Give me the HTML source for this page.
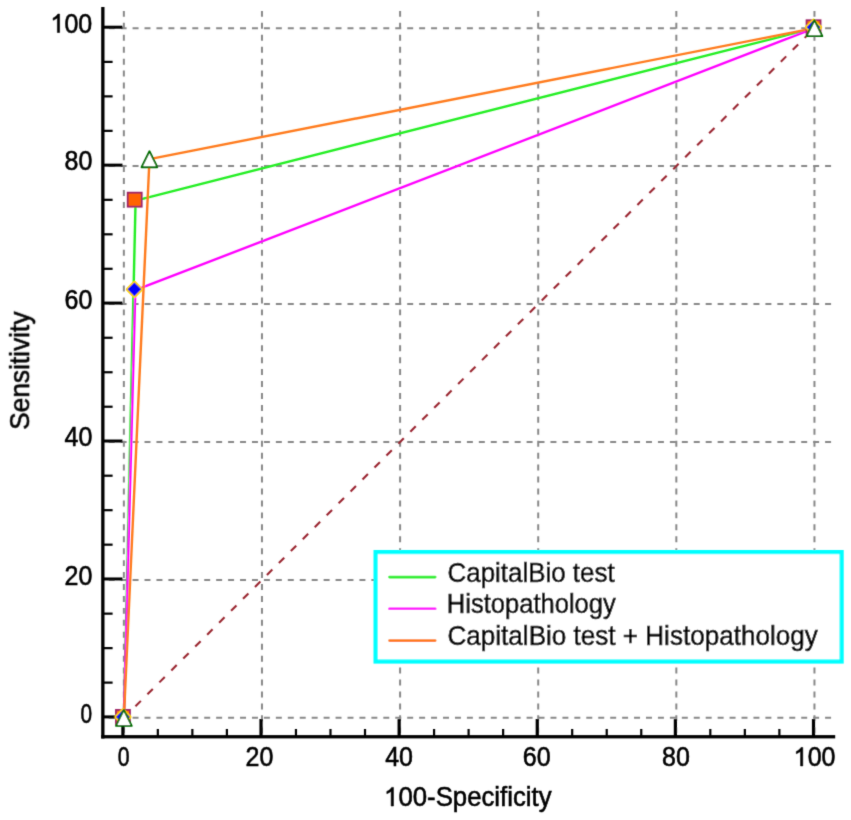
<!DOCTYPE html><html><head><meta charset="utf-8"><style>html,body{margin:0;padding:0;background:#fff;}svg{display:block;}text{font-family:"Liberation Sans",sans-serif;fill:#000;stroke:#000;stroke-width:0.55px;}</style></head><body>
<svg width="851" height="820" viewBox="0 0 851 820">
<defs><filter id="bl" x="0" y="0" width="851" height="820" filterUnits="userSpaceOnUse"><feConvolveMatrix order="3" kernelMatrix="1 6 1 6 36 6 1 6 1" divisor="64" edgeMode="duplicate"/></filter></defs>
<rect x="0" y="0" width="851" height="820" fill="#fff"/>
<g filter="url(#bl)">
<g stroke="#888" stroke-width="2" stroke-dasharray="5.97 5.97" fill="none"><line x1="108.7" y1="717.85" x2="835" y2="717.85"/><line x1="108.7" y1="579.91" x2="835" y2="579.91"/><line x1="108.7" y1="441.97" x2="835" y2="441.97"/><line x1="108.7" y1="304.03" x2="835" y2="304.03"/><line x1="108.7" y1="166.09" x2="835" y2="166.09"/><line x1="108.7" y1="28.15" x2="835" y2="28.15"/><line x1="123.85" y1="10.9" x2="123.85" y2="735"/><line x1="261.97" y1="10.9" x2="261.97" y2="735"/><line x1="400.09" y1="10.9" x2="400.09" y2="735"/><line x1="538.21" y1="10.9" x2="538.21" y2="735"/><line x1="676.33" y1="10.9" x2="676.33" y2="735"/><line x1="814.45" y1="10.9" x2="814.45" y2="735"/></g>
<line x1="123.85" y1="717.85" x2="814.45" y2="28.15" stroke="#9a2630" stroke-width="2.1" stroke-dasharray="7.6 9.29" stroke-dashoffset="0.47"/>
<rect x="101.2" y="7" width="3.3" height="731.5" fill="#000"/>
<rect x="101.2" y="735.1" width="734" height="3.3" fill="#000"/>
<g fill="#000"><rect x="103" y="715.40" width="19.5" height="3" /><rect x="103" y="681.51" width="9.6" height="2.2" /><rect x="103" y="647.03" width="9.6" height="2.2" /><rect x="103" y="612.54" width="9.6" height="2.2" /><rect x="103" y="577.46" width="19.5" height="3" /><rect x="103" y="543.57" width="9.6" height="2.2" /><rect x="103" y="509.09" width="9.6" height="2.2" /><rect x="103" y="474.60" width="9.6" height="2.2" /><rect x="103" y="439.52" width="19.5" height="3" /><rect x="103" y="405.63" width="9.6" height="2.2" /><rect x="103" y="371.15" width="9.6" height="2.2" /><rect x="103" y="336.66" width="9.6" height="2.2" /><rect x="103" y="301.58" width="19.5" height="3" /><rect x="103" y="267.69" width="9.6" height="2.2" /><rect x="103" y="233.21" width="9.6" height="2.2" /><rect x="103" y="198.72" width="9.6" height="2.2" /><rect x="103" y="163.64" width="19.5" height="3" /><rect x="103" y="129.75" width="9.6" height="2.2" /><rect x="103" y="95.27" width="9.6" height="2.2" /><rect x="103" y="60.78" width="9.6" height="2.2" /><rect x="103" y="25.70" width="19.5" height="3" /><rect x="121.30" y="719" width="3.2" height="17" /><rect x="156.73" y="729" width="2.2" height="7" /><rect x="191.26" y="729" width="2.2" height="7" /><rect x="225.79" y="729" width="2.2" height="7" /><rect x="259.42" y="719" width="3.2" height="17" /><rect x="294.85" y="729" width="2.2" height="7" /><rect x="329.38" y="729" width="2.2" height="7" /><rect x="363.91" y="729" width="2.2" height="7" /><rect x="397.54" y="719" width="3.2" height="17" /><rect x="432.97" y="729" width="2.2" height="7" /><rect x="467.50" y="729" width="2.2" height="7" /><rect x="502.03" y="729" width="2.2" height="7" /><rect x="535.66" y="719" width="3.2" height="17" /><rect x="571.09" y="729" width="2.2" height="7" /><rect x="605.62" y="729" width="2.2" height="7" /><rect x="640.15" y="729" width="2.2" height="7" /><rect x="673.78" y="719" width="3.2" height="17" /><rect x="709.21" y="729" width="2.2" height="7" /><rect x="743.74" y="729" width="2.2" height="7" /><rect x="778.27" y="729" width="2.2" height="7" /><rect x="811.90" y="719" width="3.2" height="17" /></g>
<polyline points="123.85,717.85 135.59,200.57 814.45,28.15" fill="none" stroke="#22ee22" stroke-width="2.4" stroke-linejoin="round"/>
<polyline points="123.85,717.85 135.31,290.24 814.45,28.15" fill="none" stroke="#ff00ff" stroke-width="2.4" stroke-linejoin="round"/>
<polyline points="123.85,717.85 149.47,159.19 814.45,28.15" fill="none" stroke="#ff7a1a" stroke-width="2.4" stroke-linejoin="round"/>
<rect x="115.95" y="709.95" width="14" height="14" fill="#ff6400" stroke="#9e2264" stroke-width="1.8"/>
<polygon points="122.95,710.05 129.85,716.95 122.95,723.85 116.05,716.95" fill="#ffd200" stroke="#ffd200" stroke-width="3.4" stroke-linejoin="round"/><polygon points="122.95,710.05 129.85,716.95 122.95,723.85 116.05,716.95" fill="#0000ff"/>
<polygon points="123.85,709.95 131.75,725.85 115.95,725.85" fill="#fff" stroke="#006e00" stroke-width="1.9" stroke-linejoin="round"/>
<rect x="806.55" y="20.25" width="14" height="14" fill="#ff6400" stroke="#9e2264" stroke-width="1.8"/>
<polygon points="813.55,20.35 820.45,27.25 813.55,34.15 806.65,27.25" fill="#ffd200" stroke="#ffd200" stroke-width="3.4" stroke-linejoin="round"/><polygon points="813.55,20.35 820.45,27.25 813.55,34.15 806.65,27.25" fill="#0000ff"/>
<polygon points="814.45,20.25 822.35,36.15 806.55,36.15" fill="#fff" stroke="#006e00" stroke-width="1.9" stroke-linejoin="round"/>
<rect x="127.69" y="192.67" width="14" height="14" fill="#ff6400" stroke="#9e2264" stroke-width="1.8"/>
<polygon points="134.41,282.44 141.31,289.34 134.41,296.24 127.51,289.34" fill="#ffd200" stroke="#ffd200" stroke-width="3.4" stroke-linejoin="round"/><polygon points="134.41,282.44 141.31,289.34 134.41,296.24 127.51,289.34" fill="#0000ff"/>
<polygon points="149.47,151.29 157.37,167.19 141.57,167.19" fill="#fff" stroke="#006e00" stroke-width="1.9" stroke-linejoin="round"/>
<rect x="375.6" y="552.1" width="466" height="109.4" fill="#fff" stroke="#00ffff" stroke-width="4.2"/>
<line x1="389.5" y1="577.1" x2="435.2" y2="577.1" stroke="#22ee22" stroke-width="2.6" stroke-linecap="round"/>
<line x1="389.5" y1="608.8" x2="435.2" y2="608.8" stroke="#ff00ff" stroke-width="2.6" stroke-linecap="round"/>
<line x1="389.5" y1="640.6" x2="435.2" y2="640.6" stroke="#ff7a1a" stroke-width="2.6" stroke-linecap="round"/>
<g transform="translate(447.50,581.50) scale(0.9974,1.04)"><text font-size="26" x="0" y="0">CapitalBio test</text></g>
<g transform="translate(446.76,613.40) scale(0.9830,1.04)"><text font-size="26" x="0" y="0">Histopathology</text></g>
<g transform="translate(447.50,645.20) scale(1.0035,1.04)"><text font-size="26" x="0" y="0">CapitalBio test + Histopathology</text></g>
<g transform="translate(80.47,722.70) scale(0.8333,1.07)"><text font-size="25" x="0" y="0">0</text></g>
<g transform="translate(64.55,585.26) scale(1.0000,1.07)"><text font-size="25" x="0" y="0">20</text></g>
<g transform="translate(64.55,446.32) scale(1.0000,1.07)"><text font-size="25" x="0" y="0">40</text></g>
<g transform="translate(64.55,309.18) scale(1.0000,1.07)"><text font-size="25" x="0" y="0">60</text></g>
<g transform="translate(64.55,170.44) scale(1.0000,1.07)"><text font-size="25" x="0" y="0">80</text></g>
<g transform="translate(50.55,32.50) scale(1.0000,1.07)"><path d="M740 0L560 0L560 1125C500 1068 330 975 213 935L213 1105C370 1170 520 1290 598 1409L740 1409Z" transform="scale(0.01221,-0.01221)" stroke="#000" stroke-width="45.1"/><text font-size="25" x="13.900" y="0">00</text></g>
<g transform="translate(117.70,765.90) scale(0.8500,1.07)"><text font-size="25" x="0" y="0">0</text></g>
<g transform="translate(245.50,765.90) scale(1.0000,1.07)"><text font-size="25" x="0" y="0">20</text></g>
<g transform="translate(385.18,765.90) scale(1.0000,1.07)"><text font-size="25" x="0" y="0">40</text></g>
<g transform="translate(522.80,765.90) scale(1.0000,1.07)"><text font-size="25" x="0" y="0">60</text></g>
<g transform="translate(662.02,765.90) scale(1.0000,1.07)"><text font-size="25" x="0" y="0">80</text></g>
<g transform="translate(793.73,765.90) scale(1.0000,1.07)"><path d="M740 0L560 0L560 1125C500 1068 330 975 213 935L213 1105C370 1170 520 1290 598 1409L740 1409Z" transform="scale(0.01221,-0.01221)" stroke="#000" stroke-width="45.1"/><text font-size="25" x="13.900" y="0">00</text></g>
<g transform="translate(384.14,806.00) scale(0.9903,1.04)"><path d="M740 0L560 0L560 1125C500 1068 330 975 213 935L213 1105C370 1170 520 1290 598 1409L740 1409Z" transform="scale(0.01270,-0.01270)" stroke="#000" stroke-width="43.3"/><text font-size="26" x="14.456" y="0">00-Specificity</text></g>
<g transform="translate(29.1,428.5) rotate(-90)"><g transform="translate(-1.31,0.00) scale(1.0112,1.04)"><text font-size="26" x="0" y="0">Sensitivity</text></g></g>
</g></svg></body></html>
